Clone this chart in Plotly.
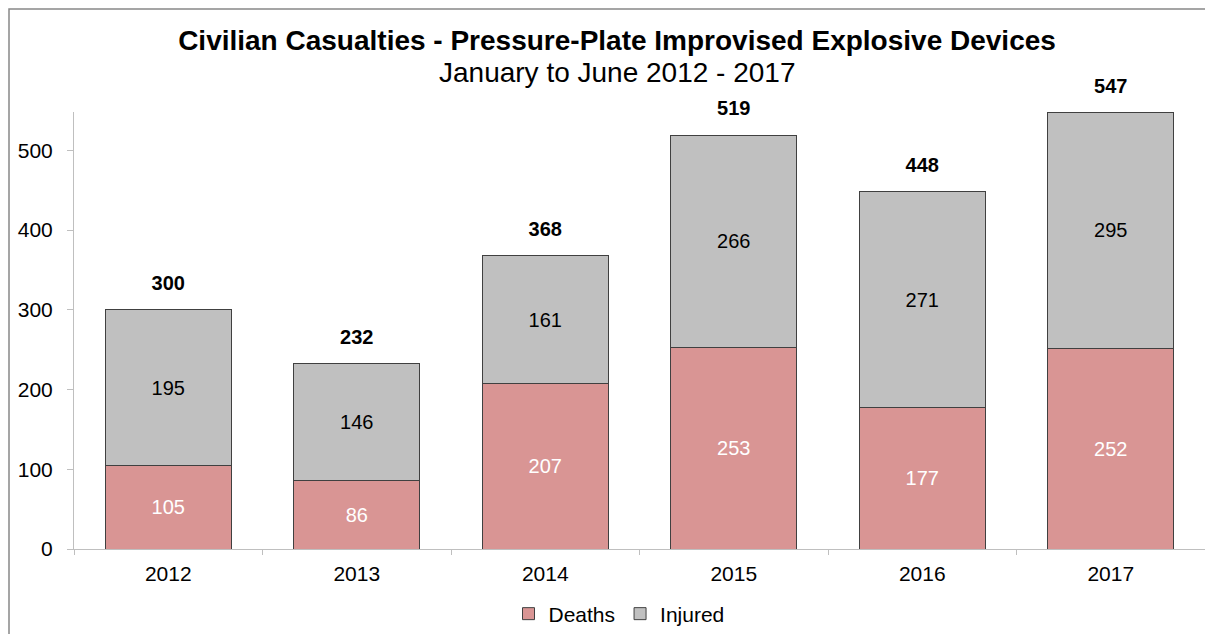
"""Civilian casualties from pressure-plate IEDs, stacked bar chart."""

import plotly.graph_objects as go

years = ["2012", "2013", "2014", "2015", "2016", "2017"]
deaths = [105, 86, 207, 253, 177, 252]
injured = [195, 146, 161, 266, 271, 295]
totals = [300, 232, 368, 519, 448, 547]

FONT = "Liberation Sans, Arial, sans-serif"
# page body has an 8px margin, so the figure is 8px smaller and shifted
W, H = 1205, 626
L, R, T, B = 66, 8, 104, 85
plot_w = W - L - R
plot_h = H - T - B

fig = go.Figure()
fig.add_trace(
    go.Bar(
        x=years,
        y=deaths,
        name="Deaths",
        marker=dict(color="#D99594", line=dict(color="#404040", width=1)),
        text=[str(v) for v in deaths],
        textposition="inside",
        insidetextanchor="middle",
        textfont=dict(color="white", size=20, family=FONT),
        hoverinfo="skip",
    )
)
fig.add_trace(
    go.Bar(
        x=years,
        y=injured,
        name="Injured",
        marker=dict(color="#C0C0C0", line=dict(color="#404040", width=1)),
        text=[str(v) for v in injured],
        textposition="inside",
        insidetextanchor="middle",
        textfont=dict(color="black", size=20, family=FONT),
        hoverinfo="skip",
    )
)
# totals above each stack (invisible markers push the label up a bit)
fig.add_trace(
    go.Scatter(
        x=years,
        y=totals,
        mode="markers+text",
        marker=dict(size=22, opacity=0),
        text=[f"<b>{v}</b>" for v in totals],
        textposition="top center",
        textfont=dict(size=20, color="black", family=FONT),
        showlegend=False,
        hoverinfo="skip",
        cliponaxis=False,
    )
)

# subtitle line
fig.add_annotation(
    xref="paper", yref="paper",
    x=(609 - L) / plot_w, y=1 + (T - 65) / plot_h,
    xanchor="center", yanchor="middle",
    text="January to June 2012 - 2017", showarrow=False,
    font=dict(size=28, color="black", family=FONT),
)

# outer chart border (cropped on right/bottom like the reference)
fig.add_shape(
    type="rect", xref="paper", yref="paper",
    x0=(1 - L) / plot_w, x1=1.2,
    y0=-0.5, y1=1 + (T - 1) / plot_h,
    line=dict(color="#888888", width=1.5),
    layer="below",
)

fig.update_layout(
    width=W,
    height=H,
    barmode="stack",
    bargap=0.33,
    margin=dict(l=L, r=R, t=T, b=B, autoexpand=False),
    plot_bgcolor="white",
    paper_bgcolor="white",
    font=dict(family=FONT, size=20, color="black"),
    title=dict(
        text="<b>Civilian Casualties - Pressure-Plate Improvised Explosive Devices</b>",
        x=609 / W, xanchor="center", xref="container",
        y=1 - 32 / H, yanchor="middle", yref="container",
        font=dict(size=28, family=FONT, color="black"),
    ),
    xaxis=dict(
        type="category",
        categoryorder="array", categoryarray=years,
        range=[-0.5, 5.5],
        showline=True, linecolor="#BFBFBF", linewidth=1,
        ticks="outside", tickson="boundaries", ticklen=5, tickcolor="#BFBFBF",
        showgrid=False,
        tickangle=0,
        ticklabelstandoff=6,
        tickfont=dict(size=21),
    ),
    yaxis=dict(
        range=[0, 548],
        tickvals=[0, 100, 200, 300, 400, 500],
        showline=True, linecolor="#BFBFBF", linewidth=1,
        ticks="outside", ticklen=6, tickcolor="#BFBFBF",
        showgrid=False, zeroline=False,
        ticklabelstandoff=10,
        tickfont=dict(size=21),
    ),
    legend=dict(
        orientation="h",
        x=(611 - L) / plot_w, xanchor="center",
        y=-(606 - (H - B)) / plot_h, yanchor="middle",
        font=dict(size=21),
        itemwidth=30,
        traceorder="normal",
    ),
    showlegend=True,
)

fig.write_html("out.html")
